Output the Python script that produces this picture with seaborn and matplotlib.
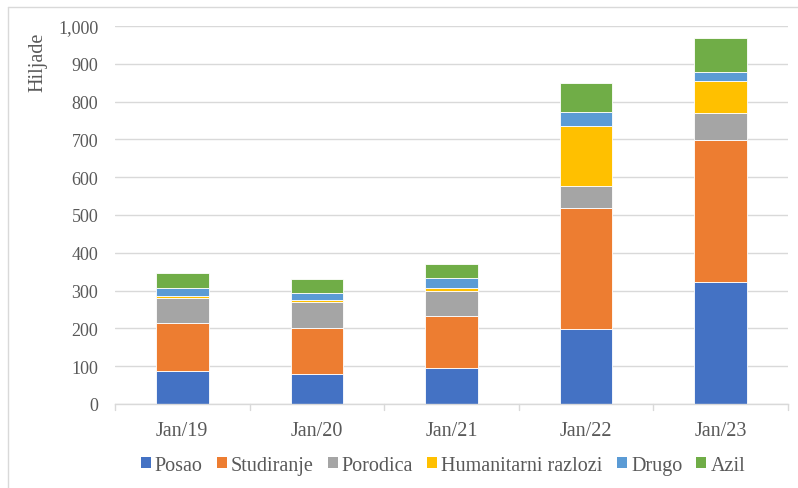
import numpy as np
import pandas as pd
import matplotlib
matplotlib.use("Agg")
import matplotlib.pyplot as plt
import seaborn as sns
from matplotlib.patches import Patch
from matplotlib.ticker import FuncFormatter, FixedLocator


periods = ["Jan/19", "Jan/20", "Jan/21", "Jan/22", "Jan/23"]
reasons = ["Posao", "Studiranje", "Porodica", "Humanitarni razlozi", "Drugo", "Azil"]
colors = ["#4472C4", "#ED7D31", "#A5A5A5", "#FFC000", "#5B9BD5", "#70AD47"]

posao = [88, 79, 95, 198, 322]
studiranje = [127, 123, 137, 320, 377]
porodica = [65, 69, 66, 60, 70]
humanitarni = [6, 5, 9, 158, 85]
drugo = [21, 18, 26, 36, 24]
azil = [40, 37, 37, 76, 90]

series = [posao, studiranje, porodica, humanitarni, drugo, azil]

sns.set_style("white")
plt.rcParams["font.family"] = ["Liberation Serif", "DejaVu Serif"]
txt = "#595959"

fig = plt.figure(figsize=(7.98, 4.89), dpi=100)
ax = fig.add_axes([115 / 798, 84 / 489, 673 / 798, 378 / 489])

bottom = np.zeros(len(periods))
for name, vals, col in zip(reasons, series, colors):
    df = pd.DataFrame({"period": periods, "value": vals})
    sns.barplot(data=df, x="period", y="value", color=col, width=0.39,
                bottom=bottom, ax=ax, edgecolor="white", linewidth=0.6,
                saturation=1)
    bottom = bottom + np.array(vals)

ax.set_ylim(0, 1000)
ax.set_xlim(-0.5, len(periods) - 0.5)
ax.yaxis.set_major_locator(FixedLocator(range(0, 1001, 100)))
ax.yaxis.set_major_formatter(FuncFormatter(lambda v, p: f"{int(v):,}"))
ax.grid(axis="y", color="#D9D9D9", linewidth=1)
ax.set_axisbelow(True)
for s in ["top", "right", "left"]:
    ax.spines[s].set_visible(False)
ax.spines["bottom"].set_color("#D9D9D9")
ax.spines["bottom"].set_linewidth(1)

ax.set_xlabel("")
ax.set_ylabel("Hiljade", fontsize=14.5, color=txt)
ax.yaxis.set_label_coords(-0.101, 0.907)
ax.tick_params(axis="y", length=0, labelsize=13, labelcolor=txt, pad=12)
ax.tick_params(axis="x", length=0, labelsize=14.5, labelcolor=txt, pad=12.5)

# category boundary ticks below the axis
for b in np.arange(-0.5, len(periods), 1.0):
    ax.plot([b, b], [0, -17], color="#D9D9D9", linewidth=1, clip_on=False)

handles = [Patch(facecolor=c, edgecolor="none") for c in colors]
fig.legend(handles, reasons, loc="center", bbox_to_anchor=(0.555, 0.047),
           ncol=6, frameon=False, fontsize=14.5, handlelength=0.5,
           handleheight=0.5, handletextpad=0.2, columnspacing=0.7,
           labelcolor=txt)

# chart border
fig.add_artist(plt.Line2D([7.5 / 798, 7.5 / 798], [0, 1 - 8 / 489],
                          transform=fig.transFigure, color="#D9D9D9", linewidth=1))
fig.add_artist(plt.Line2D([7.5 / 798, 1], [1 - 8 / 489, 1 - 8 / 489],
                          transform=fig.transFigure, color="#D9D9D9", linewidth=1))

fig.savefig("out.png", dpi=100)
